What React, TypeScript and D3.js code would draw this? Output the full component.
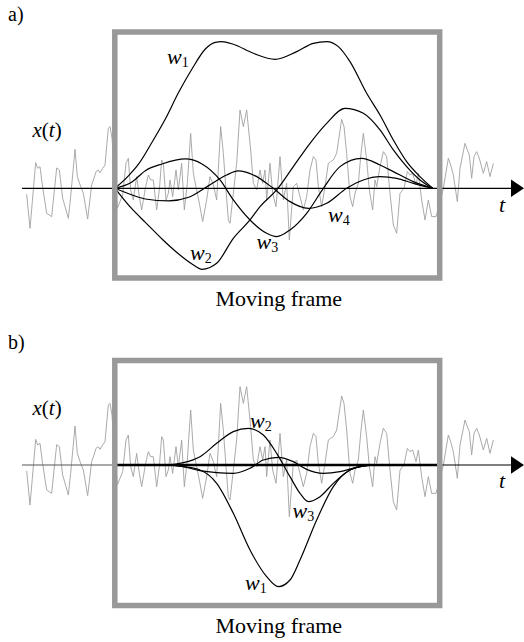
import React from "react";
import * as d3 from "d3";

// time units: 3 units = 1 px on the page; amplitude units likewise
const noise: [number, number][] = [
  [80, -18], [90, -120], [97, -40], [107, 77], [113, 60], [120, 65], [127, 10], [140, -75], [155, -85],
  [170, 61], [178, 55], [188, -30], [205, -90], [212, -25], [225, 117], [232, 35], [242, 5], [250, -15],
  [263, -92], [275, 10], [282, 30], [288, 50], [295, 55], [300, 47], [308, 60], [315, 70], [325, 180],
  [330, 185], [336, 150], [344, 40], [352, -60], [368, -20], [378, 75], [385, 90], [392, -5], [400, -35],
  [410, 35], [418, -25], [425, -65], [437, 5], [445, 40], [452, 25], [460, 25], [470, -65], [478, -5],
  [485, 85], [490, 75], [498, -35], [505, -15], [510, 25], [518, -25], [528, 55], [535, -5], [540, 35],
  [545, 75], [553, -65], [562, 15], [572, 165], [580, 45], [590, -5], [598, -45], [608, -100], [620, -35],
  [630, 35], [640, 10], [650, -35], [662, 185], [670, 105], [678, -5], [685, -95], [690, -105], [700, -15],
  [710, 75], [720, 235], [730, 185], [740, 235], [752, 115], [760, 15], [770, -5], [780, 55], [788, 15],
  [795, 55], [800, -35], [810, 75], [818, -15], [828, -55], [840, 95], [850, -35], [860, 15], [868, -155],
  [880, 5], [890, 15], [900, -25], [910, -65], [920, -25], [930, 55], [940, 95], [948, 85], [955, 5],
  [965, -55], [975, 5], [985, 75], [992, 80], [1000, 85], [1010, 105], [1025, 207], [1032, 185], [1040, 105],
  [1050, -25], [1058, -55], [1065, -15], [1075, 15], [1083, 105], [1090, 165], [1100, 85], [1108, -5],
  [1118, -65], [1125, 25], [1130, 5], [1140, 65], [1150, 110], [1160, 95], [1170, -15], [1180, -110],
  [1190, -135], [1200, -15], [1212, 0], [1222, 50], [1230, 40], [1238, 45], [1248, 10], [1255, 45],
  [1265, -35], [1275, -95], [1285, -35], [1295, -85], [1308, -85], [1318, -50], [1330, 0], [1345, 90],
  [1352, 70], [1360, 40], [1372, -40], [1380, 60], [1395, 135], [1402, 115], [1408, 100], [1415, 30],
  [1422, 95], [1430, 110], [1438, 90], [1450, 45], [1460, 80], [1470, 35], [1480, 75],
];

const aW1: [number, number][] = [
  [345, 0], [386, 38], [416, 73], [456, 138], [496, 208], [536, 288], [576, 358], [616, 418], [646, 438],
  [665, 440], [700, 432], [760, 405], [825, 387], [890, 410], [940, 435], [980, 440], [1015, 425],
  [1050, 380], [1100, 285], [1140, 220], [1180, 145], [1220, 80], [1260, 35], [1298, 0],
];
const aW2: [number, number][] = [
  [345, 0], [396, -62], [436, -102], [486, -152], [536, -197], [576, -227], [606, -243], [650, -225],
  [700, -150], [750, -95], [780, -55], [830, -5], [880, 65], [930, 135], [980, 195], [1035, 240],
  [1090, 225], [1140, 175], [1180, 115], [1220, 65], [1260, 25], [1298, 0],
];
const aW3: [number, number][] = [
  [345, 0], [396, 19], [436, 53], [486, 73], [556, 88], [606, 73], [660, 25], [700, -35], [750, -95],
  [800, -135], [830, -145], [870, -125], [920, -75], [970, 0], [1020, 65], [1085, 90], [1140, 70],
  [1180, 50], [1240, 20], [1298, 0],
];
const aW4: [number, number][] = [
  [345, 0], [396, -20], [436, -32], [506, -38], [566, -27], [626, 8], [680, 40], [715, 52], [760, 40],
  [820, 0], [870, -40], [925, -60], [980, -45], [1040, 0], [1090, 25], [1140, 35], [1190, 30],
  [1240, 15], [1298, 0],
];

const bW1: [number, number][] = [
  [345, 0], [500, 0], [550, -5], [600, -15], [650, -55], [700, -145], [750, -255], [800, -335],
  [835, -365], [870, -345], [900, -285], [950, -165], [1000, -65], [1050, -15], [1100, -2], [1130, 0], [1298, 0],
];
const bW2: [number, number][] = [
  [345, 0], [500, 0], [550, 7], [600, 25], [650, 65], [700, 100], [745, 110], [790, 90], [830, 35],
  [870, -35], [900, -85], [925, -110], [960, -95], [1000, -55], [1050, -15], [1100, -2], [1130, 0], [1298, 0],
];
const bW3: [number, number][] = [
  [345, 0], [500, 0], [550, -5], [600, -17], [650, -23], [700, -25], [750, -10], [790, 15], [835, 23],
  [880, 10], [920, -13], [970, -25], [1020, -20], [1070, -7], [1120, 0], [1298, 0],
];

const panelLabels = ["a)", "b)"];
const frameLabel = "Moving frame";

const FONT = "Liberation Serif";

const x = d3.scaleLinear().domain([0, 1572]).range([0, 524]);

function WLabel({ px, py, sub, subDy = 3 }: { px: number; py: number; sub: string; subDy?: number }) {
  return (
    <text x={px} y={py} style={{ fontFamily: FONT, fontSize: 22, fontStyle: "italic" }}>
      w
      <tspan style={{ fontSize: 14, fontStyle: "normal" }} dy={subDy}>{sub}</tspan>
    </text>
  );
}

function Panel({
  axisY, frameTop, frameBottom, curves, label, labelY, xtY, tY, captionY, bold, children,
}: {
  axisY: number; frameTop: number; frameBottom: number; curves: [number, number][][];
  label: string; labelY: number; xtY: number; tY: number; captionY: number; bold: boolean;
  children?: React.ReactNode;
}) {
  const y = d3.scaleLinear().domain([-300, 300]).range([axisY + 100, axisY - 100]);
  const noiseLine = d3.line<[number, number]>().x(d => x(d[0])).y(d => y(d[1]));
  const curveLine = d3
    .line<[number, number]>()
    .x(d => x(d[0]))
    .y(d => y(d[1]))
    .curve(d3.curveMonotoneX);
  const fx0 = 114.8, fx1 = 439.7;
  return (
    <g>
      <text x={8} y={labelY} style={{ fontFamily: FONT, fontSize: 20 }}>{label}</text>
      <path d={noiseLine(noise) || ""} fill="none" stroke="#a0a0a0" strokeWidth={0.9} />
      {bold ? (
        <>
          <line x1={22} x2={x(345)} y1={axisY} y2={axisY} stroke="#555" strokeWidth={1.2} />
          <line x1={x(345)} x2={fx1} y1={axisY} y2={axisY} stroke="#000" strokeWidth={2.4} />
          <line x1={fx1} x2={512} y1={axisY} y2={axisY} stroke="#000" strokeWidth={1.2} />
        </>
      ) : (
        <line x1={22} x2={512} y1={axisY} y2={axisY} stroke="#000" strokeWidth={1.2} />
      )}
      <path d={`M511,${axisY - 8.7}L524,${axisY}L511,${axisY + 8.7}Z`} fill="#000" />
      {curves.map((c, i) => (
        <path key={i} d={curveLine(c) || ""} fill="none" stroke="#000" strokeWidth={1.2} />
      ))}
      <rect
        x={fx0} y={frameTop} width={fx1 - fx0} height={frameBottom - frameTop}
        fill="none" stroke="#999" strokeWidth={5.5}
      />
      <text x={32.5} y={xtY} style={{ fontFamily: FONT, fontSize: 21, fontStyle: "italic" }}>
        x<tspan style={{ fontStyle: "normal" }}>(</tspan>t<tspan style={{ fontStyle: "normal" }}>)</tspan>
      </text>
      <text x={499} y={tY} style={{ fontFamily: FONT, fontSize: 22, fontStyle: "italic" }}>t</text>
      <text x={278.8} y={captionY} textAnchor="middle" style={{ fontFamily: FONT, fontSize: 22 }}>
        {frameLabel}
      </text>
      {children}
    </g>
  );
}

export default function App() {
  return (
    <svg
      width={524}
      height={642}
      viewBox="0 0 524 642"
      style={{ position: "absolute", left: 0, top: 0, background: "#fff" }}
    >
      <rect width={524} height={642} fill="#fff" />
      <Panel
        axisY={188.3} frameTop={32} frameBottom={278} curves={[aW1, aW2, aW3, aW4]}
        label={panelLabels[0]} labelY={20.5} xtY={137} tY={211.5} captionY={306} bold={false}
      >
        <WLabel px={167} py={64} sub="1" />
        <WLabel px={190} py={260} sub="2" />
        <WLabel px={256.5} py={249} sub="3" />
        <WLabel px={328} py={222} sub="4" />
      </Panel>
      <Panel
        axisY={465} frameTop={360.5} frameBottom={605.5} curves={[bW1, bW2, bW3]}
        label={panelLabels[1]} labelY={349} xtY={415} tY={488} captionY={633} bold={true}
      >
        <WLabel px={250} py={428} sub="2" />
        <WLabel px={292.5} py={518} sub="3" />
        <WLabel px={245} py={590} sub="1" />
      </Panel>
    </svg>
  );
}
